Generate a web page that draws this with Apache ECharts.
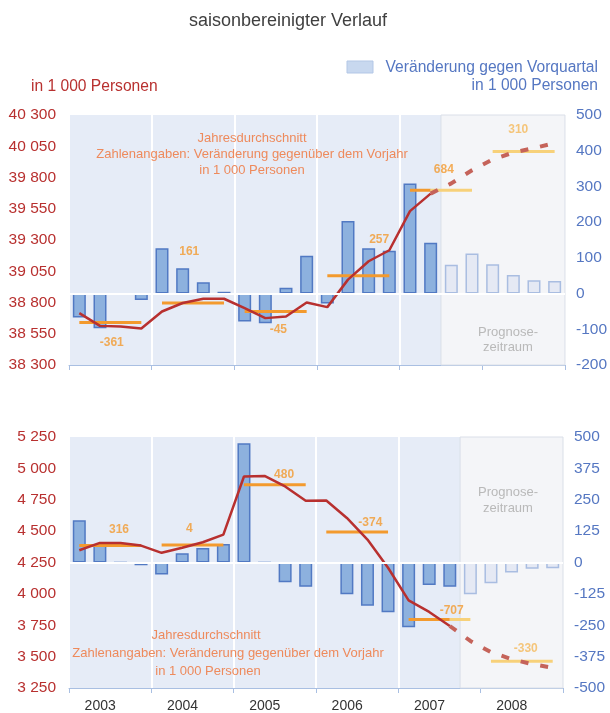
<!DOCTYPE html>
<html>
<head>
<meta charset="utf-8">
<script src="https://cdn.jsdelivr.net/npm/echarts@6/dist/echarts.min.js"></script>
<style>
  html, body { margin: 0; padding: 0; background: #fff; }
  #chart { width: 610px; height: 713px; }
</style>
</head>
<body>
<div id="chart"></div>
<script>
// Quartale 2003 - 2008
const years = ['2003', '2004', '2005', '2006', '2007', '2008'];
const quarters = [];
years.forEach(y => ['Q1', 'Q2', 'Q3', 'Q4'].forEach(q => quarters.push(y + ' ' + q)));

// oberes Diagramm
const topLine = [38715, 38613, 38608, 38592, 38728, 38796, 38830, 38830, 38755, 38675, 38688, 38800,
  38763, 38983, 39130, 39218, 39531, 39671, 39753, 39858, 39944, 40000, 40035, 40075];
const topBars = [-67, -97, -2, -18, 127, 71, 32, 5, -78, -83, 16, 106,
  -28, 203, 127, 120, 308, 142, 81, 112, 82, 52, 37, 35];
const topAvg = [38640, 38796, 38728, 39015, 39698, 40008];
const topLabelText = ['-361', '161', '-45', '257', '684', '310'];
const topLabelX = [2.07, 5.82, 10.13, 15.01, 18.14, 21.74];
const topLabelY = [38479, 39210, 38581, 39304, 39866, 40182];
const topLastActual = 17;
const topForecastFrom = 18;

// unteres Diagramm
const botLine = [4348, 4406, 4406, 4385, 4327, 4367, 4411, 4472, 4935, 4940, 4856, 4742,
  4744, 4605, 4433, 4208, 3948, 3856, 3744, 3625, 3536, 3480, 3440, 3411];
const botBars = [168, 69, 0, -11, -48, 37, 58, 74, 475, 0, -79, -97,
  -3, -126, -172, -198, -258, -90, -97, -126, -83, -40, -25, -23];
const botAvg = [4385, 4390, 4869, 4494, 3795, 3464];
const botLabelText = ['316', '4', '480', '-374', '-707', '-330'];
const botLabelX = [2.43, 5.85, 10.45, 14.64, 18.59, 22.19];
const botLabelY = [4512, 4517, 4948, 4570, 3863, 3560];
const botLastActual = 18;
const botForecastFrom = 19;

const FONT = 'Liberation Sans, Arial, sans-serif';
const RED = '#b8302f';
const BLUE = '#5577c2';
const ORANGE = '#f39a2e';
const YELLOW = '#f7d17a';

const fmt = v => String(v).replace(/\B(?=(\d{3})+(?!\d))/g, ' ');

function chartSeries(g, line, bars, avg, lastActual, forecastFrom, lblText, lblX, lblY) {
  const qx = g * 3, vx = g * 3 + 2;
  const ly = g * 2, ry = g * 2 + 1;
  const list = [];
  // Prognosezeitraum
  list.push({
    type: 'line', xAxisIndex: vx, yAxisIndex: ly, data: [], z: 1, silent: true,
    markArea: {
      silent: true,
      itemStyle: { color: '#f4f5f8', borderColor: '#dadfe8', borderWidth: 1 },
      data: [[{ xAxis: forecastFrom }, { xAxis: quarters.length }]]
    }
  });
  // Veraenderung gegen Vorquartal
  list.push({
    type: 'bar', xAxisIndex: qx, yAxisIndex: ry, barWidth: 13, z: 2,
    data: bars.map((v, i) => ({
      value: v,
      itemStyle: i <= lastActual
        ? { color: '#8db1de', borderColor: '#5179c3', borderWidth: 1.5 }
        : { color: '#e5e9f4', borderColor: '#a9bde1', borderWidth: 1.5 }
    })),
    markLine: {
      silent: true, symbol: 'none', label: { show: false },
      lineStyle: { color: '#fff', width: 2, type: 'solid' },
      data: [{ yAxis: 0 }]
    }
  });
  // Jahresdurchschnitt
  avg.forEach((a, y) => {
    const idx = [0, 1, 2, 3].map(k => y * 4 + k);
    const solid = idx.filter(i => i <= lastActual);
    const fcst = idx.filter(i => i >= lastActual);
    [[solid, ORANGE], [fcst, YELLOW]].forEach(([part, color]) => {
      if (part.length < 2) return;
      list.push({
        type: 'line', xAxisIndex: qx, yAxisIndex: ly, z: 3, symbol: 'none',
        lineStyle: { color: color, width: 3 },
        data: quarters.map((q, i) => part.includes(i) ? a : '-')
      });
    });
  });
  // Verlauf
  list.push({
    type: 'line', xAxisIndex: qx, yAxisIndex: ly, z: 4, symbol: 'none',
    lineStyle: { color: RED, width: 2.5 },
    data: line.map((v, i) => i <= lastActual ? v : '-')
  });
  list.push({
    type: 'line', xAxisIndex: qx, yAxisIndex: ly, z: 4, symbol: 'none',
    lineStyle: { color: '#c5635a', width: 4, type: [8, 12], cap: 'butt' },
    data: line.map((v, i) => i >= lastActual ? v : '-')
  });
  // Zahlenangaben
  list.push({
    type: 'scatter', xAxisIndex: vx, yAxisIndex: ly, z: 5, symbolSize: 0, silent: true,
    data: lblText.map((t, i) => ({
      value: [lblX[i], lblY[i]],
      label: {
        show: true, position: 'inside', formatter: t,
        color: i === lblText.length - 1 ? '#f5b95a' : ORANGE,
        fontFamily: FONT, fontSize: 12, fontWeight: 'bold'
      }
    }))
  });
  return list;
}

function xAxes(g, showLabels) {
  return [
    { type: 'category', gridIndex: g, data: quarters, show: false },
    {
      type: 'category', gridIndex: g, data: years, position: 'bottom',
      axisLine: { lineStyle: { color: '#a9bfe2', width: 1 } },
      axisTick: { show: true, length: 5, lineStyle: { color: '#a9bfe2' } },
      axisLabel: {
        show: showLabels, color: '#333', fontFamily: FONT, fontSize: 14,
        margin: 11, padding: [0, 20, 0, 0]
      },
      splitLine: { show: true, lineStyle: { color: '#fff', width: 2 } }
    },
    { type: 'value', gridIndex: g, min: 0, max: quarters.length, show: false }
  ];
}

function yAxes(g, lmin, lmax, lint, rmin, rmax, rint) {
  return [
    {
      type: 'value', gridIndex: g, position: 'left', min: lmin, max: lmax, interval: lint,
      axisLine: { show: false }, axisTick: { show: false }, splitLine: { show: false },
      axisLabel: { color: RED, fontFamily: FONT, fontSize: 15.5, margin: 13, formatter: fmt }
    },
    {
      type: 'value', gridIndex: g, position: 'right', min: rmin, max: rmax, interval: rint,
      axisLine: { show: false }, axisTick: { show: false }, splitLine: { show: false },
      axisLabel: { color: BLUE, fontFamily: FONT, fontSize: 15.5, margin: 11 }
    }
  ];
}

function txt(x, y, text, color, size, align) {
  return {
    type: 'text', x: x, y: y, z: 100,
    style: {
      text: text, fill: color, font: size + 'px ' + FONT,
      align: align || 'center', verticalAlign: 'middle'
    }
  };
}

const NOTE = '#ee8a5c';
const GREY = '#b9b9b9';

const option = {
  animation: false,
  grid: [
    { left: 69, right: 45, top: 115, height: 250, show: true, backgroundColor: '#e6ecf7', borderWidth: 0 },
    { left: 69, right: 47, top: 437, height: 251, show: true, backgroundColor: '#e6ecf7', borderWidth: 0 }
  ],
  xAxis: [...xAxes(0, false), ...xAxes(1, true)],
  yAxis: [...yAxes(0, 38300, 40300, 250, -200, 500, 100), ...yAxes(1, 3250, 5250, 250, -500, 500, 125)],
  series: [
    ...chartSeries(0, topLine, topBars, topAvg, topLastActual, topForecastFrom, topLabelText, topLabelX, topLabelY),
    ...chartSeries(1, botLine, botBars, botAvg, botLastActual, botForecastFrom, botLabelText, botLabelX, botLabelY)
  ],
  graphic: [
    txt(288, 21, 'saisonbereinigter Verlauf', '#404040', 18),
    txt(31, 87, 'in 1 000 Personen', RED, 15.6, 'left'),
    { type: 'rect', shape: { x: 347, y: 61, width: 26, height: 12 }, style: { fill: '#c8d8ef', stroke: '#b3c7e6' } },
    txt(598, 68, 'Veränderung gegen Vorquartal', BLUE, 15.6, 'right'),
    txt(598, 86, 'in 1 000 Personen', BLUE, 15.6, 'right'),
    txt(252, 138, 'Jahresdurchschnitt', NOTE, 13),
    txt(252, 154, 'Zahlenangaben: Veränderung gegenüber dem Vorjahr', NOTE, 13),
    txt(252, 170, 'in 1 000 Personen', NOTE, 13),
    txt(206, 635, 'Jahresdurchschnitt', NOTE, 13),
    txt(228, 653, 'Zahlenangaben: Veränderung gegenüber dem Vorjahr', NOTE, 13),
    txt(208, 671, 'in 1 000 Personen', NOTE, 13),
    txt(508, 332, 'Prognose-', GREY, 13),
    txt(508, 347, 'zeitraum', GREY, 13),
    txt(508, 492, 'Prognose-', GREY, 13),
    txt(508, 508, 'zeitraum', GREY, 13)
  ]
};

const chart = echarts.init(document.getElementById('chart'), null, { renderer: 'canvas' });
chart.setOption(option);
</script>
</body>
</html>
